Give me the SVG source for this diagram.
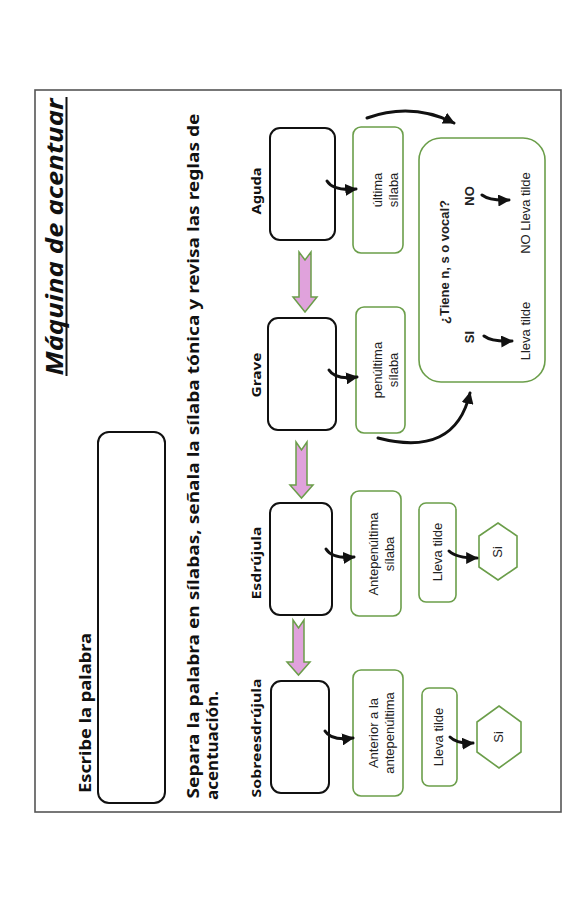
<svg xmlns="http://www.w3.org/2000/svg" width="583" height="900" viewBox="0 0 583 900">
<style>
.h{font-family:"Noto Sans","DejaVu Sans",sans-serif;font-weight:bold;fill:#111}
.t{font-family:"Liberation Sans",Arial,sans-serif;font-size:13px;fill:#222}
.b{font-weight:bold}
.blk{fill:#fff;stroke:#111;stroke-width:2}
.grn{fill:#fff;stroke:#6b9e4a;stroke-width:1.6}
.pink{fill:#e0a2dc;stroke:#6b9e4a;stroke-width:1.5}
.con{fill:none;stroke:#111;stroke-width:3;stroke-linecap:round}
</style>
<defs>
<marker id="ah" viewBox="0 0 10 10" refX="9" refY="5" markerWidth="4" markerHeight="4" orient="auto">
<path d="M0,0 L10,5 L0,10 z" fill="#111"/>
</marker>
</defs>
<rect width="583" height="900" fill="#fff"/>
<rect x="35" y="90" width="526" height="722" fill="none" stroke="#555" stroke-width="1.6"/>

<g id="title">
<text class="h" font-style="italic" font-size="23" text-anchor="middle" transform="translate(63,237) rotate(-90)" textLength="277" lengthAdjust="spacingAndGlyphs">Máquina de acentuar</text>
<line x1="66.5" y1="97" x2="66.5" y2="376" stroke="#111" stroke-width="2"/>
</g>
<g id="escribe">
<text class="h" font-size="16" text-anchor="middle" transform="translate(91,713) rotate(-90)" textLength="160" lengthAdjust="spacingAndGlyphs">Escribe la palabra</text>
<rect class="blk" x="98" y="432" width="67" height="371" rx="11"/>
</g>
<g id="instrucciones">
<text class="h" font-size="16" text-anchor="middle" transform="translate(199,456) rotate(-90)" textLength="685" lengthAdjust="spacingAndGlyphs">Separa la palabra en sílabas, señala la sílaba tónica y revisa las reglas de</text>
<text class="h" font-size="16" text-anchor="start" transform="translate(218,800) rotate(-90)" textLength="109" lengthAdjust="spacingAndGlyphs">acentuación.</text>
</g>

<g id="aguda">
<text class="h" font-size="13" text-anchor="middle" transform="translate(261,191) rotate(-90)" textLength="47" lengthAdjust="spacingAndGlyphs">Aguda</text>
<rect class="blk" x="270" y="128" width="65" height="112" rx="10"/>
</g>
<g id="grave">
<text class="h" font-size="13" text-anchor="middle" transform="translate(261,375) rotate(-90)" textLength="45" lengthAdjust="spacingAndGlyphs">Grave</text>
<rect class="blk" x="268" y="318" width="68" height="112" rx="10"/>
</g>
<g id="esdrujula">
<text class="h" font-size="13" text-anchor="middle" transform="translate(261,563) rotate(-90)" textLength="73" lengthAdjust="spacingAndGlyphs">Esdrújula</text>
<rect class="blk" x="270" y="503" width="62" height="112" rx="10"/>
</g>
<g id="sobreesdrujula">
<text class="h" font-size="13" text-anchor="middle" transform="translate(261,738) rotate(-90)" textLength="119" lengthAdjust="spacingAndGlyphs">Sobreesdrújula</text>
<rect class="blk" x="271" y="681" width="58" height="112" rx="10"/>
</g>

<g id="ultima">
<rect class="grn" x="353" y="127" width="50" height="126" rx="8"/>
<text class="t" text-anchor="middle" transform="translate(382,190) rotate(-90)">última</text>
<text class="t" text-anchor="middle" transform="translate(398,190) rotate(-90)">sílaba</text>
</g>
<g id="penultima">
<rect class="grn" x="356" y="307" width="49" height="126" rx="8"/>
<text class="t" text-anchor="middle" transform="translate(382,370) rotate(-90)">penúltima</text>
<text class="t" text-anchor="middle" transform="translate(398,370) rotate(-90)">sílaba</text>
</g>
<g id="antepenultima">
<rect class="grn" x="351" y="491" width="50" height="125" rx="8"/>
<text class="t" text-anchor="middle" transform="translate(378,554) rotate(-90)">Antepenúltima</text>
<text class="t" text-anchor="middle" transform="translate(394,554) rotate(-90)">sílaba</text>
</g>
<g id="anterior">
<rect class="grn" x="353" y="670" width="50" height="126" rx="8"/>
<text class="t" text-anchor="middle" transform="translate(378,733) rotate(-90)">Anterior a la</text>
<text class="t" text-anchor="middle" transform="translate(394,733) rotate(-90)">antepenúltima</text>
</g>

<g id="regla">
<rect class="grn" x="419" y="138" width="126" height="244" rx="22"/>
<text class="t b" text-anchor="middle" transform="translate(449,262) rotate(-90)">¿Tiene n, s o vocal?</text>
<text class="t b" text-anchor="middle" transform="translate(474,196) rotate(-90)">NO</text>
<text class="t b" text-anchor="middle" transform="translate(474,337) rotate(-90)">SI</text>
<text class="t" text-anchor="middle" transform="translate(530,213) rotate(-90)">NO Lleva tilde</text>
<text class="t" text-anchor="middle" transform="translate(530,331) rotate(-90)">Lleva tilde</text>
</g>

<g id="tilde1">
<rect class="grn" x="419" y="503" width="37" height="99" rx="7"/>
<text class="t" text-anchor="middle" transform="translate(442,552) rotate(-90)">Lleva tilde</text>
</g>
<g id="si1">
<polygon class="grn" points="498,523 517,536 517,567 498,580 479,567 479,536"/>
<text class="t" text-anchor="middle" transform="translate(502,552) rotate(-90)">Si</text>
</g>
<g id="tilde2">
<rect class="grn" x="422" y="688" width="35" height="98" rx="7"/>
<text class="t" text-anchor="middle" transform="translate(443,737) rotate(-90)">Lleva tilde</text>
</g>
<g id="si2">
<polygon class="grn" points="499,706 521,722 521,752 499,768 477,752 477,722"/>
<text class="t" text-anchor="middle" transform="translate(503,737) rotate(-90)">Si</text>
</g>

<g id="connectors">
<polygon class="pink" points="299,252 305,260 311,252 311,297 317,297 305,312 293,297 299,297"/>
<polygon class="pink" points="296,442 301.5,450 307,442 307,485 313,485 301.5,498 290,485 296,485"/>
<polygon class="pink" points="293,620 298.5,628 304,620 304,662 310,662 298.5,675 287,662 293,662"/>
<path class="con" d="M327,181 Q333,191 356,189" marker-end="url(#ah)"/>
<path class="con" d="M329,370 Q335,380 357,377" marker-end="url(#ah)"/>
<path class="con" d="M326,549 Q332,559 354,557" marker-end="url(#ah)"/>
<path class="con" d="M325,731 Q331,741 353,738" marker-end="url(#ah)"/>
<path class="con" d="M482,195 Q490,201 509,200" marker-end="url(#ah)"/>
<path class="con" d="M484,336 Q492,342 512,341" marker-end="url(#ah)"/>
<path class="con" d="M449,551 Q456,558 477,558" marker-end="url(#ah)"/>
<path class="con" d="M450,737 Q457,744 473,743" marker-end="url(#ah)"/>
<path class="con" d="M367,118 Q412,102 454,123" marker-end="url(#ah)"/>
<path class="con" d="M378,438 Q455,458 470,393" marker-end="url(#ah)"/>
</g>
</svg>
